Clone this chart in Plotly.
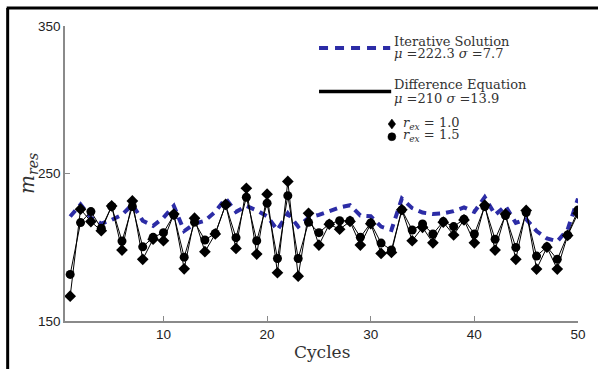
import plotly.graph_objects as go

cycles = list(range(1, 51))

iterative = [220.8, 229, 220, 216, 218.5, 222, 229, 218, 214.5, 220,
             228, 211, 216, 218, 224, 233, 224, 228, 225, 221,
             211.7, 223, 214, 220, 222, 224.5, 227, 228.5, 221.5, 221,
             214, 211.7, 233, 226.5, 223.5, 222.5, 223, 224.5, 227, 224,
             234, 222, 228, 216.5, 219, 211, 206, 204, 212, 233]

rex_15 = [181.6, 216.7, 224.2, 212.9, 227.6, 204.2, 227.6, 200.3, 206.7, 209.9,
          221.9, 193.3, 217, 204.9, 209.4, 228.7, 206.5, 233.9, 204.4, 229.9,
          192.4, 235, 192.4, 216.9, 209.9, 215.8, 218, 218, 206.8, 216.5,
          202.8, 198.1, 225.3, 211.7, 215.8, 209, 217.4, 214, 219, 209,
          227.6, 205.4, 221.5, 199.9, 223.5, 194, 200.3, 191.8, 208.3, 225.3]

rex_10 = [166.8, 225.8, 217.4, 211.2, 228, 198.1, 231.4, 191.8, 205.5, 204.4,
          222.5, 185.4, 219.7, 197, 209, 229, 199.2, 240, 195.4, 236,
          182.7, 244.6, 180.4, 223, 201.5, 215.6, 212.2, 217.5, 201.5, 216,
          195.8, 196.5, 225.5, 204.4, 213.5, 203, 217, 208.3, 218.5, 203,
          228.5, 198.1, 222.5, 191.8, 225, 185.2, 200, 185.2, 208, 223]

y_ticks = [150, 250, 350]
x_ticks = [10, 20, 30, 40, 50]

BLUE = "#2c2ca6"
AX = "#8a8a8a"
SERIF = "DejaVu Serif"
SANS = "Liberation Sans"

fig = go.Figure()
fig.add_trace(go.Scatter(x=cycles, y=iterative, mode="lines",
                         line=dict(color=BLUE, width=4, dash="8px,6px"),
                         name="Iterative Solution", showlegend=False))
fig.add_trace(go.Scatter(x=cycles, y=rex_10, mode="lines+markers",
                         line=dict(color="black", width=1),
                         marker=dict(symbol="diamond", size=9, color="black"),
                         name="r_ex = 1.0", showlegend=False))
fig.add_trace(go.Scatter(x=cycles, y=rex_15, mode="lines+markers",
                         line=dict(color="black", width=1),
                         marker=dict(symbol="circle", size=9, color="black"),
                         name="r_ex = 1.5", showlegend=False))

W, H = 598, 369
L, R, T, B = 65, 14, 26, 48
pw, ph = W - L - R, H - T - B

def px(x):
    return (x - L) / pw

def py(y):
    return (H - B - y) / ph

shapes = [
    dict(type="line", xref="paper", yref="paper", x0=px(7), x1=px(7), y0=py(8), y1=py(380),
         line=dict(color="black", width=3)),
    dict(type="line", xref="paper", yref="paper", x0=px(6), x1=px(610), y0=py(8), y1=py(8),
         line=dict(color="black", width=3)),
    dict(type="line", xref="paper", yref="paper", x0=px(322), x1=px(394), y0=py(48), y1=py(48),
         line=dict(color=BLUE, width=4, dash="9px,7px")),
    dict(type="line", xref="paper", yref="paper", x0=px(322), x1=px(395), y0=py(91.5), y1=py(91.5),
         line=dict(color="black", width=3.5)),
    dict(type="path", xref="paper", yref="paper",
         path=f"M {px(395.7)} {py(119)} L {px(399.5)} {py(124)} L {px(395.7)} {py(129)} L {px(391.9)} {py(124)} Z",
         fillcolor="black", line=dict(color="black", width=0.5)),
    dict(type="circle", xref="paper", yref="paper",
         x0=px(391.7), x1=px(399.7), y0=py(132.7), y1=py(140.7),
         fillcolor="black", line=dict(color="black", width=0.5)),
]

tf = dict(family=SERIF, size=13, color="#333333")
anns = [
    dict(text="Iterative Solution", x=px(396), y=py(41.5)),
    dict(text="<i>μ</i> =222.3 <i>σ</i> =7.7", x=px(396), y=py(54)),
    dict(text="Difference Equation", x=px(396), y=py(84)),
    dict(text="<i>μ</i> =210 <i>σ</i> =13.9", x=px(396), y=py(98.3)),
    dict(text="<i>r</i><sub><i>ex</i></sub> = 1.0", x=px(405), y=py(123)),
    dict(text="<i>r</i><sub><i>ex</i></sub> = 1.5", x=px(405), y=py(135.5)),
]
annotations = [dict(xref="paper", yref="paper", xanchor="left", yanchor="middle",
                    showarrow=False, font=tf, **a) for a in anns]
annotations.append(dict(text="<i>m</i><sub><i>res</i></sub>", xref="paper", yref="paper",
                        x=px(27), y=0.5, textangle=-90, showarrow=False,
                        xanchor="center", yanchor="middle",
                        font=dict(family=SERIF, size=20, color="#333333")))
annotations.append(dict(text="Cycles", xref="paper", yref="paper",
                        x=px(325), y=py(352), showarrow=False,
                        xanchor="center", yanchor="middle",
                        font=dict(family=SERIF, size=17, color="#333333")))

fig.update_layout(
    width=W, height=H,
    margin=dict(l=L, r=R, t=T, b=B),
    paper_bgcolor="white", plot_bgcolor="white",
    shapes=shapes, annotations=annotations,
    xaxis=dict(range=[0.5, 50], tickvals=x_ticks, ticks="inside", ticklen=5,
               tickcolor=AX, tickwidth=1.2, showline=True, linecolor=AX, linewidth=1.5,
               showgrid=False, zeroline=False,
               tickfont=dict(family=SANS, size=13.5, color="#222222")),
    yaxis=dict(range=[150, 350], tickvals=y_ticks, ticks="inside", ticklen=5,
               tickcolor=AX, tickwidth=1.2, showline=True, linecolor=AX, linewidth=1.5,
               showgrid=False, zeroline=False,
               tickfont=dict(family=SANS, size=13.5, color="#222222")),
)

fig.write_html("out.html")
